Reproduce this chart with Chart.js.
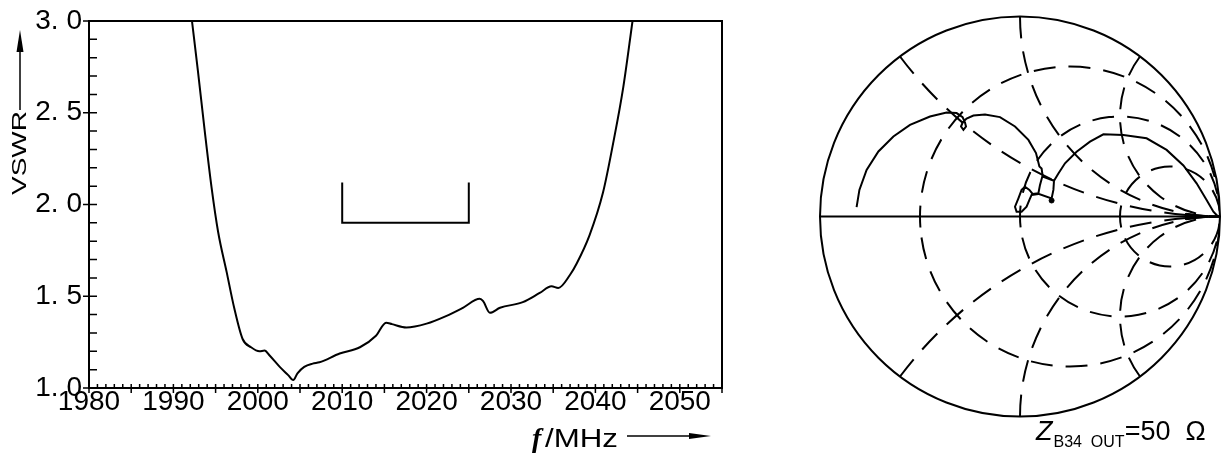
<!DOCTYPE html>
<html>
<head>
<meta charset="utf-8">
<script src="https://cdn.jsdelivr.net/npm/chart.js@4.4.1/dist/chart.umd.min.js"></script>
<style>
  html, body { margin: 0; padding: 0; background: #fff; }
  #wrap { position: relative; width: 1229px; height: 457px; overflow: hidden; }
  #vswrChart { position: absolute; left: 0; top: 0; }
  #smithChart { position: absolute; left: 800px; top: 0; }
</style>
</head>
<body>
<div id="wrap">
  <canvas id="vswrChart" width="780" height="457"></canvas>
  <canvas id="smithChart" width="429" height="457"></canvas>
</div>
<script>
// VSWR curve
const freqs = [1992.2, 1992.9, 1993.7, 1994.5, 1995.3, 1996.3, 1997.2, 1998.2, 1999.2, 2000.2,
               2000.8, 2001.4, 2002.6, 2003.6, 2004.2, 2004.7, 2005.5, 2006.5, 2007.3, 2009.7,
               2012.1, 2014.0, 2015.2, 2015.9, 2017.6, 2020.0, 2022.3, 2024.3, 2026.3, 2026.7,
               2027.5, 2028.7, 2031.4, 2033.4, 2034.8, 2035.6, 2037.0, 2037.8, 2039.3, 2040.9,
               2042.1, 2043.3, 2044.4];
const vswr = [3.0, 2.73, 2.405, 2.10, 1.85, 1.634, 1.437, 1.267, 1.222, 1.20,
              1.204, 1.177, 1.115, 1.07, 1.043, 1.08, 1.115, 1.133, 1.14, 1.188,
              1.222, 1.285, 1.356, 1.348, 1.33, 1.351, 1.392, 1.437, 1.486, 1.473,
              1.41, 1.437, 1.468, 1.518, 1.554, 1.545, 1.617, 1.68, 1.832, 2.065,
              2.333, 2.638, 3.0];

// spec bracket
const maskFreqs = [2010, 2010, 2025, 2025];
const maskVswr = [2.12, 1.9, 1.9, 2.12];

const xTicks = [1980, 1990, 2000, 2010, 2020, 2030, 2040, 2050];
const yTicks = [1.0, 1.5, 2.0, 2.5, 3.0];

// Smith chart trace, reflection coefficient (re, im)
const traceRe = [-0.817, -0.803, -0.767, -0.708, -0.633, -0.55, -0.45, -0.367, -0.317, -0.287,
                 -0.275, -0.27, -0.283, -0.295, -0.285, -0.267, -0.233, -0.175, -0.10, -0.025,
                 0.042, 0.08, 0.097, 0.108, 0.113, 0.10, 0.092, 0.063, 0.047, 0.025,
                 0.008, -0.008, -0.025, -0.017, 0.008, 0.033, 0.047, 0.058, 0.092, 0.158,
                 0.167, 0.17, 0.113, 0.17, 0.192, 0.225, 0.283, 0.35, 0.417, 0.517,
                 0.633, 0.733, 0.817, 0.883, 0.933, 0.967, 0.99];
const traceIm = [0.047, 0.133, 0.233, 0.325, 0.40, 0.458, 0.50, 0.52, 0.517, 0.497,
                 0.47, 0.45, 0.433, 0.45, 0.473, 0.49, 0.505, 0.51, 0.497, 0.45,
                 0.383, 0.317, 0.25, 0.24, 0.205, 0.158, 0.116, 0.113, 0.133, 0.149,
                 0.133, 0.091, 0.049, 0.024, 0.024, 0.049, 0.083, 0.108, 0.113, 0.09,
                 0.133, 0.179, 0.2, 0.179, 0.215, 0.266, 0.324, 0.374, 0.411, 0.408,
                 0.391, 0.333, 0.255, 0.166, 0.083, 0.024, 0.0];
const markerRe = [0.158];
const markerIm = [0.08];

// grid of the Smith chart
const rCircles = [1 / 3, 1, 3];
const xArcs = [0.5, 1, 2, -0.5, -1, -2];

const tickFont = { family: "'Liberation Sans', sans-serif", size: 28, lineHeight: 1 };

// box, inner minor ticks and crossing major ticks
const frameTicks = {
  id: 'frameTicks',
  afterDraw(chart) {
    const { ctx, chartArea: a, scales: { x, y } } = chart;
    ctx.save();
    ctx.strokeStyle = '#000';
    ctx.lineWidth = 2;
    ctx.strokeRect(a.left, a.top, a.right - a.left, a.bottom - a.top);
    ctx.lineWidth = 1.5;
    ctx.beginPath();
    for (let f = x.min; f <= x.max; f++) {
      const px = x.getPixelForValue(f);
      const major = f % 5 === 0;
      ctx.moveTo(px, a.bottom - 4);
      ctx.lineTo(px, a.bottom + (major ? 5 : 0));
    }
    for (let i = 10; i <= 30; i++) {
      const py = y.getPixelForValue(i / 10);
      const major = i % 5 === 0;
      ctx.moveTo(a.left - (major ? 6 : 0), py);
      ctx.lineTo(a.left + 8, py);
    }
    ctx.stroke();
    ctx.restore();
  }
};

function arrowHead(ctx, tipX, tipY, dx, dy, len, half) {
  ctx.beginPath();
  ctx.moveTo(tipX, tipY);
  ctx.lineTo(tipX - dx * len - dy * half, tipY - dy * len + dx * half);
  ctx.lineTo(tipX - dx * len + dy * half, tipY - dy * len - dx * half);
  ctx.closePath();
  ctx.fill();
}

// axis titles with arrows
const axisTitles = {
  id: 'axisTitles',
  afterDraw(chart) {
    const ctx = chart.ctx;
    ctx.save();
    ctx.fillStyle = '#000';
    ctx.strokeStyle = '#000';
    ctx.lineWidth = 1.5;

    // VSWR, vertical
    ctx.save();
    ctx.translate(19, 153);
    ctx.rotate(-Math.PI / 2);
    ctx.scale(1.4, 1);
    ctx.font = "20px 'Liberation Sans', sans-serif";
    ctx.textAlign = 'center';
    ctx.textBaseline = 'middle';
    ctx.fillText('VSWR', 0, 1);
    ctx.restore();
    ctx.beginPath();
    ctx.moveTo(20, 110);
    ctx.lineTo(20, 45);
    ctx.stroke();
    arrowHead(ctx, 20, 30, 0, -1, 22, 3.5);

    // f/MHz
    ctx.textBaseline = 'alphabetic';
    ctx.textAlign = 'left';
    ctx.font = "italic bold 28px 'Liberation Serif', serif";
    ctx.fillText('f', 532, 447);
    ctx.save();
    ctx.translate(545, 447);
    ctx.scale(1.25, 1);
    ctx.font = "25px 'Liberation Sans', sans-serif";
    ctx.fillText('/MHz', 0, 0);
    ctx.restore();
    ctx.beginPath();
    ctx.moveTo(627, 436);
    ctx.lineTo(695, 436);
    ctx.stroke();
    arrowHead(ctx, 711, 436, 1, 0, 22, 3);
    ctx.restore();
  }
};

new Chart(document.getElementById('vswrChart'), {
  type: 'line',
  data: {
    datasets: [
      {
        data: freqs.map((f, i) => ({ x: f, y: vswr[i] })),
        borderColor: '#000', borderWidth: 2, pointRadius: 0,
        cubicInterpolationMode: 'monotone'
      },
      {
        data: maskFreqs.map((f, i) => ({ x: f, y: maskVswr[i] })),
        borderColor: '#000', borderWidth: 2, pointRadius: 0, tension: 0
      }
    ]
  },
  options: {
    responsive: false,
    animation: false,
    layout: { padding: { left: 0, right: 58, top: 16, bottom: 0 } },
    plugins: { legend: { display: false }, tooltip: { enabled: false } },
    scales: {
      x: {
        type: 'linear', min: 1980, max: 2055,
        afterBuildTicks: s => { s.ticks = xTicks.map(v => ({ value: v })); },
        afterFit: s => { s.height = 69; },
        grid: { display: false, drawTicks: false },
        border: { display: false },
        ticks: {
          font: tickFont, color: '#000', padding: 0, maxRotation: 0, autoSkip: false,
          callback: v => String(v)
        }
      },
      y: {
        type: 'linear', min: 1, max: 3,
        afterBuildTicks: s => { s.ticks = yTicks.map(v => ({ value: v })); },
        afterFit: s => { s.width = 89; },
        grid: { display: false, drawTicks: false },
        border: { display: false },
        ticks: {
          font: tickFont, color: '#000', padding: 7,
          callback: v => v.toFixed(1).replace('.', '. ')
        }
      }
    }
  },
  plugins: [frameTicks, axisTitles]
});

// Smith chart grid, outer circle, real axis with arrow
const smithGrid = {
  id: 'smithGrid',
  beforeDatasetsDraw(chart) {
    const { ctx, scales: { x, y } } = chart;
    const cx = x.getPixelForValue(0), cy = y.getPixelForValue(0);
    const R = x.getPixelForValue(1) - cx;
    ctx.save();
    ctx.strokeStyle = '#000';
    ctx.fillStyle = '#000';
    ctx.beginPath();
    ctx.arc(cx, cy, R, 0, Math.PI * 2);
    ctx.clip();
    ctx.lineWidth = 2;
    ctx.setLineDash([22, 13]);
    rCircles.forEach(r => {
      const c = x.getPixelForValue(r / (r + 1));
      const rad = R / (r + 1);
      const a0 = Math.PI - 11 / rad;
      ctx.beginPath();
      ctx.arc(c, cy, rad, a0, a0 + Math.PI * 2);
      ctx.stroke();
    });
    xArcs.forEach(v => {
      const ax = x.getPixelForValue(1), ay = y.getPixelForValue(1 / v);
      const rad = R / Math.abs(v);
      const pRe = (v * v - 1) / (v * v + 1), pIm = 2 * v / (v * v + 1);
      const px = x.getPixelForValue(pRe), py = y.getPixelForValue(pIm);
      const start = Math.atan2(py - ay, px - ax);
      const end = v > 0 ? Math.PI / 2 : -Math.PI / 2;
      ctx.beginPath();
      ctx.arc(ax, ay, rad, start, end, v > 0);
      ctx.stroke();
    });
    ctx.restore();

    ctx.save();
    ctx.strokeStyle = '#000';
    ctx.fillStyle = '#000';
    ctx.lineWidth = 2;
    ctx.beginPath();
    ctx.arc(cx, cy, R, 0, Math.PI * 2);
    ctx.stroke();
    ctx.beginPath();
    ctx.moveTo(cx - R, cy);
    ctx.lineTo(cx + R, cy);
    ctx.stroke();
    arrowHead(ctx, x.getPixelForValue(0.985), cy, 1, 0, 32, 3.5);
    ctx.restore();
  },
  afterDraw(chart) {
    const ctx = chart.ctx;
    ctx.save();
    ctx.fillStyle = '#000';
    ctx.textBaseline = 'alphabetic';
    ctx.textAlign = 'left';
    let px = 236;
    ctx.font = "italic 27px 'Liberation Sans', sans-serif";
    ctx.fillText('Z', px, 440);
    px += ctx.measureText('Z').width + 1;
    ctx.font = "16px 'Liberation Sans', sans-serif";
    ctx.fillText('B34  OUT', px, 447);
    px += ctx.measureText('B34  OUT').width;
    ctx.font = "27px 'Liberation Sans', sans-serif";
    ctx.fillText('=50  \u03A9', px, 440);
    ctx.restore();
  }
};

new Chart(document.getElementById('smithChart'), {
  type: 'scatter',
  data: {
    datasets: [
      {
        data: traceRe.map((r, i) => ({ x: r, y: traceIm[i] })),
        showLine: true, borderColor: '#000', borderWidth: 2, pointRadius: 0, tension: 0
      },
      {
        data: markerRe.map((r, i) => ({ x: r, y: markerIm[i] })),
        pointRadius: 2.5, pointBackgroundColor: '#000', pointBorderColor: '#000'
      }
    ]
  },
  options: {
    responsive: false,
    animation: false,
    layout: { padding: { left: 20, right: 9, top: 16.5, bottom: 40.5 } },
    plugins: { legend: { display: false }, tooltip: { enabled: false } },
    scales: {
      x: { type: 'linear', min: -1, max: 1, display: false },
      y: { type: 'linear', min: -1, max: 1, display: false }
    }
  },
  plugins: [smithGrid]
});
</script>
</body>
</html>
